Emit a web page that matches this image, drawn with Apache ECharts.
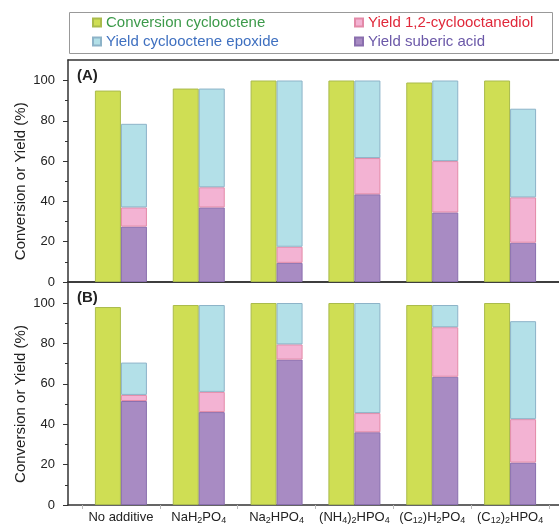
<!DOCTYPE html>
<html><head><meta charset="utf-8">
<script src="https://cdn.jsdelivr.net/npm/echarts@6/dist/echarts.min.js"></script>
<style>html,body{margin:0;padding:0;background:#fff}#c{width:559px;height:527px}</style>
</head><body><div id="c"></div>
<script>
const categories = ['No additive', 'NaH_2PO_4', 'Na_2HPO_4', '(NH_4)_2HPO_4', '(C_12)H_2PO_4', '(C_12)_2HPO_4'];
const yTicks = [0, 20, 40, 60, 80, 100];
// Panel A
const convA     = [95, 96, 100, 100, 99, 100];
const subericA  = [27.5, 37, 9.5, 43.5, 34.5, 19.5];
const diolA     = [9.5, 10, 8, 18, 25.5, 22.5];
const epoxideA  = [41.5, 49, 82.5, 38.5, 40, 44];
// Panel B
const convB     = [98, 99, 100, 100, 99, 100];
const subericB  = [51.5, 46, 72, 36, 63.5, 21];
const diolB     = [3, 10, 7.5, 9.5, 24.5, 21.5];
const epoxideB  = [16, 43, 20.5, 54.5, 11, 48.5];

const NAMES = {
  conv: 'Conversion cyclooctene',
  epox: 'Yield cyclooctene epoxide',
  diol: 'Yield 1,2-cyclooctanediol',
  sub: 'Yield suberic acid'
};
const FONT = 'Liberation Sans, Arial, sans-serif';
const COL = {
  conv: {color: '#cfde54', borderColor: '#aabb4c'},
  epox: {color: '#b3e0e8', borderColor: '#8db3c8'},
  diol: {color: '#f3b3d3', borderColor: '#e38aa8'},
  sub:  {color: '#a88bc3', borderColor: '#8a6fae'}
};

const chart = echarts.init(document.getElementById('c'), null, {renderer: 'canvas'});

const panels = [
  {top: 80.5, height: 201.5, ftop: 60, fheight: 222, data: [convA, subericA, diolA, epoxideA], label: '(A)', ltop: 63, showX: false},
  {top: 303, height: 202, ftop: 282, fheight: 223, data: [convB, subericB, diolB, epoxideB], label: '(B)', ltop: 285, showX: true}
];

const grid = [], xAxis = [], yAxis = [], series = [], title = [];
panels.forEach((p, i) => {
  grid.push({left: 82, right: 10, top: p.top, height: p.height});
  grid.push({left: 68, right: 0, top: p.ftop, height: p.fheight});
  const gi = i * 2, fi = i * 2 + 1;
  xAxis.push({
    gridIndex: gi, type: 'category', data: categories,
    axisLine: {show: false},
    axisTick: {show: p.showX, length: 4, lineStyle: {color: '#bbb'}},
    axisLabel: {
      show: p.showX, interval: 0, hideOverlap: false, margin: 4, color: '#222', fontSize: 13, fontFamily: FONT,
      lineHeight: 16,
      formatter: v => v.replace(/_(\d+)/g, '{s|$1}'),
      rich: {s: {fontSize: 9, fontFamily: FONT, color: '#222', lineHeight: 8, verticalAlign: 'bottom'}}
    }
  });
  yAxis.push({
    gridIndex: gi, type: 'value', min: 0, max: 100, interval: 20, offset: 14,
    axisLine: {show: false},
    axisTick: {show: true, length: 5, lineStyle: {color: '#333'}},
    minorTick: {show: true, splitNumber: 2, length: 3, lineStyle: {color: '#333'}},
    splitLine: {show: false},
    axisLabel: {margin: 13, color: '#222', fontSize: 13, fontFamily: FONT,
      formatter: v => (yTicks.indexOf(v) >= 0 ? String(v) : '')},
    name: 'Conversion or Yield (%)', nameLocation: 'middle', nameGap: 40, nameMoveOverlap: false,
    nameTextStyle: {fontSize: 15, color: '#222', fontFamily: FONT}
  });
  xAxis.push({gridIndex: fi, type: 'value', min: 0, max: 1, position: 'bottom',
    axisLine: {show: true, lineStyle: {color: '#333', width: 1.5}},
    axisTick: {show: false}, axisLabel: {show: false}, splitLine: {show: false}});
  xAxis.push({gridIndex: fi, type: 'value', min: 0, max: 1, position: 'top',
    axisLine: {show: true, lineStyle: {color: '#333', width: 1.5}},
    axisTick: {show: false}, axisLabel: {show: false}, splitLine: {show: false}});
  yAxis.push({gridIndex: fi, type: 'value', min: 0, max: 1, position: 'left',
    axisLine: {show: true, lineStyle: {color: '#333', width: 1.5}},
    axisTick: {show: false}, axisLabel: {show: false}, splitLine: {show: false}});
  title.push({text: p.label, left: 72, top: p.ltop,
    textStyle: {fontSize: 15, fontWeight: 'bold', color: '#222', fontFamily: FONT}});
});

panels.forEach((p, i) => {
  const xi = i * 3, yi = i * 2;
  const keys = ['conv', 'sub', 'diol', 'epox'];
  keys.forEach((k, j) => {
    series.push({
      type: 'bar', name: NAMES[k], xAxisIndex: xi, yAxisIndex: yi,
      stack: k === 'conv' ? 'conv' + i : 'yield' + i,
      barWidth: 26, barGap: '0%',
      itemStyle: {color: COL[k].color, borderColor: COL[k].borderColor, borderWidth: 1},
      emphasis: {disabled: true},
      data: p.data[j]
    });
  });
});

const legendBase = {
  orient: 'vertical', itemWidth: 8, itemHeight: 8, itemGap: 4, icon: 'rect',
  selectedMode: false, padding: 0,
  textStyle: {fontSize: 15, fontFamily: FONT}
};

chart.setOption({
  animation: false,
  title: title,
  grid: grid,
  xAxis: xAxis,
  yAxis: yAxis,
  legend: [
    Object.assign({}, legendBase, {left: 92, top: 15, data: [
      {name: NAMES.conv, textStyle: {color: '#3c9a4a'}},
      {name: NAMES.epox, textStyle: {color: '#3f70c0'}}
    ]}),
    Object.assign({}, legendBase, {left: 354, top: 15, data: [
      {name: NAMES.diol, textStyle: {color: '#e0283a'}},
      {name: NAMES.sub, textStyle: {color: '#6b58a8'}}
    ]})
  ],
  graphic: [{type: 'rect', shape: {x: 69.5, y: 12.5, width: 483, height: 41},
    style: {fill: 'none', stroke: '#999', lineWidth: 1}, silent: true}],
  series: series
});
</script></body></html>
